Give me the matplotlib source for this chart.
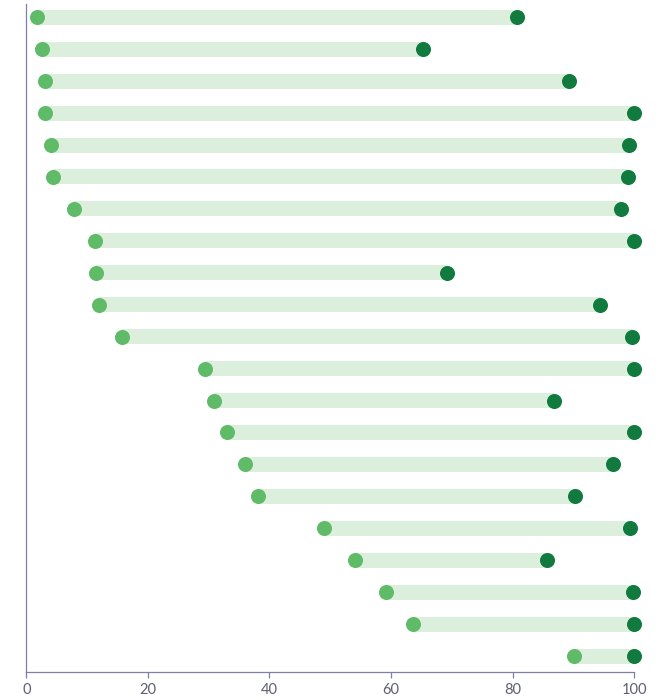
import matplotlib
matplotlib.use("Agg")
import matplotlib.pyplot as plt

# ========== 데이터 ==========
rows = list(range(21))
start_vals = [1.8, 2.6, 3.0, 3.0, 4.0, 4.4, 7.9, 11.3, 11.5, 12.0, 15.8,
              29.4, 30.8, 33.0, 36.0, 38.2, 48.9, 54.1, 59.2, 63.7, 90.1]
end_vals = [80.8, 65.3, 89.3, 100, 99.1, 99.0, 97.8, 100, 69.2, 94.4, 99.6,
            100, 86.9, 100, 96.6, 90.2, 99.4, 85.7, 99.9, 100, 100]
x_ticks = [0, 20, 40, 60, 80, 100]

BAR_COLOR = "#dcefdc"
START_COLOR = "#5fbb68"
END_COLOR = "#117a3e"
AXIS_COLOR = "#8080a6"
TEXT_COLOR = "#5e5e70"

plt.rcParams['font.family'] = ['Lato', 'DejaVu Sans']

fig = plt.figure(figsize=(6.61, 7.0), dpi=100)
# 축 영역: x 26.5~634 px, y 4~672 px
ax = fig.add_axes([0.0398, 0.04, 0.9195, 0.9543])

widths = [e - s for s, e in zip(start_vals, end_vals)]
ax.barh(rows, widths, left=start_vals, height=0.47, color=BAR_COLOR, zorder=1)
ax.scatter(start_vals, rows, s=117, color=START_COLOR, zorder=3,
           linewidths=0, clip_on=False)
ax.scatter(end_vals, rows, s=117, color=END_COLOR, zorder=3,
           linewidths=0, clip_on=False)

ax.set_xlim(0, 100)
ax.set_ylim(20.5, -0.417)
ax.set_xticks(x_ticks)
ax.set_yticks([])

for side in ("top", "right"):
    ax.spines[side].set_visible(False)
for side in ("left", "bottom"):
    ax.spines[side].set_color(AXIS_COLOR)
    ax.spines[side].set_linewidth(0.9)

ax.tick_params(axis="x", colors=AXIS_COLOR, length=4, width=0.9,
               labelcolor=TEXT_COLOR, labelsize=10.5, pad=4)

fig.savefig("out.png", dpi=100)
